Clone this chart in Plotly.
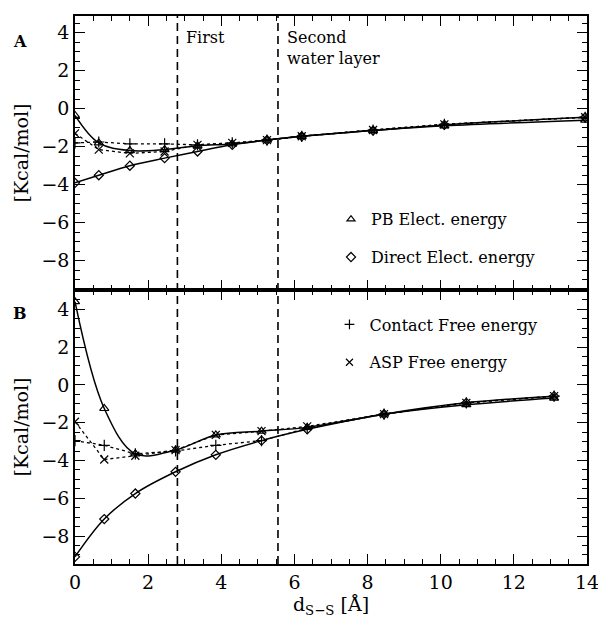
import plotly.graph_objects as go
from plotly.subplots import make_subplots

# ---- data ----
x_top = [0.0, 0.65, 1.5, 2.45, 3.35, 4.3, 5.25, 6.2, 8.15, 10.1, 13.95]
pb_top = [-0.35, -1.8, -2.2, -2.15, -1.95, -1.85, -1.65, -1.45, -1.15, -0.9, -0.6]
direct_top = [-3.9, -3.5, -3.0, -2.6, -2.25, -1.9, -1.65, -1.45, -1.15, -0.85, -0.45]
contact_top = [-1.8, -1.75, -1.85, -1.85, -1.9, -1.8, -1.65, -1.45, -1.12, -0.82, -0.45]
asp_top = [-1.3, -2.15, -2.35, -2.25, -1.9, -1.8, -1.65, -1.45, -1.12, -0.82, -0.45]

x_bot = [0.0, 0.8, 1.65, 2.75, 3.85, 5.1, 6.35, 8.45, 10.7, 13.1]
pb_bot = [4.4, -1.25, -3.65, -3.45, -2.65, -2.45, -2.25, -1.55, -1.05, -0.7]
direct_bot = [-9.1, -7.1, -5.75, -4.6, -3.7, -2.95, -2.35, -1.55, -0.95, -0.6]
contact_bot = [-2.95, -3.2, -3.65, -3.5, -3.2, -2.95, -2.3, -1.55, -0.95, -0.6]
asp_bot = [-1.95, -3.95, -3.75, -3.45, -2.65, -2.45, -2.2, -1.55, -0.95, -0.6]

layer_x = [2.8, 5.55]
y_ticks = [-8, -6, -4, -2, 0, 2, 4]
x_ticks = [0, 2, 4, 6, 8, 10, 12, 14]

names = ["PB Elect. energy", "Direct Elect. energy", "Contact Free energy", "ASP Free energy"]

FONT = "DejaVu Serif"
BLACK = "black"

def mk(symbol, size=9):
    return dict(symbol=symbol, size=size, color=BLACK,
                line=dict(width=1.2, color=BLACK))

sym = {"pb": "triangle-up-open", "direct": "diamond-open",
       "contact": "cross-thin-open", "asp": "x-thin-open"}

fig = make_subplots(rows=2, cols=1, shared_xaxes=True, vertical_spacing=0)

def add_panel(row, xs, pb, direct, contact, asp):
    fig.add_trace(go.Scatter(x=xs, y=contact, mode="lines+markers",
                             line=dict(color=BLACK, width=1.3, dash="dot"),
                             marker=mk(sym["contact"], 8), showlegend=False), row=row, col=1)
    fig.add_trace(go.Scatter(x=xs, y=asp, mode="lines+markers",
                             line=dict(color=BLACK, width=1.3, dash="dot"),
                             marker=mk(sym["asp"], 8), showlegend=False), row=row, col=1)
    fig.add_trace(go.Scatter(x=xs, y=pb, mode="lines+markers",
                             line=dict(color=BLACK, width=1.5, shape="spline", smoothing=1.0),
                             marker=mk(sym["pb"], 8), showlegend=False), row=row, col=1)
    fig.add_trace(go.Scatter(x=xs, y=direct, mode="lines+markers",
                             line=dict(color=BLACK, width=1.5, shape="spline", smoothing=1.0),
                             marker=mk(sym["direct"], 7), showlegend=False), row=row, col=1)

add_panel(1, x_top, pb_top, direct_top, contact_top, asp_top)
add_panel(2, x_bot, pb_bot, direct_bot, contact_bot, asp_bot)

# legend entries (marker-only, no data)
for key, name, leg, grp in [("pb", names[0], "legend", "g1"),
                            ("direct", names[1], "legend", "g2"),
                            ("contact", names[2], "legend2", "g3"),
                            ("asp", names[3], "legend2", "g4")]:
    fig.add_trace(go.Scatter(x=[None], y=[None], mode="markers",
                             marker=mk(sym[key], 7), name=name,
                             legend=leg, legendgroup=grp, showlegend=True))

axis_common = dict(showline=True, linecolor=BLACK, linewidth=1.6, mirror="ticks",
                   ticks="inside", ticklen=10, tickwidth=1.2, tickcolor=BLACK,
                   showgrid=False, zeroline=False, automargin=False,
                   ticklabeloverflow="allow",
                   tickfont=dict(family=FONT, size=19, color=BLACK),
                   minor=dict(ticks="inside", ticklen=5, tickwidth=1.0,
                              tickcolor=BLACK, tickmode="linear", tick0=0, dtick=0.5,
                              showgrid=False))

fig.update_xaxes(**axis_common, range=[0, 14], tickvals=x_ticks)
fig.update_xaxes(showticklabels=False, row=1, col=1)
fig.update_xaxes(title=dict(text="d<sub>S−S</sub> [Å]", font=dict(family=FONT, size=19, color=BLACK),
                            standoff=4), row=2, col=1)
fig.update_yaxes(**axis_common, tickvals=y_ticks,
                 title=dict(text="[Kcal/mol]", font=dict(family=FONT, size=19, color=BLACK),
                            standoff=8))
fig.update_yaxes(range=[-9.54, 4.88], row=1, col=1)
fig.update_yaxes(range=[-9.48, 5.02], row=2, col=1)

for xv in layer_x:
    fig.add_shape(type="line", xref="x", yref="paper", x0=xv, x1=xv, y0=0, y1=1,
                  line=dict(color=BLACK, width=1.6, dash="8px,5px"), layer="above")

ann_font = dict(family=FONT, size=16, color=BLACK)
fig.add_annotation(text="First", xref="paper", yref="paper", x=0.212, y=0.982,
                   xanchor="left", yanchor="top", showarrow=False, font=ann_font)
fig.add_annotation(text="Second<br>water layer", xref="paper", yref="paper", x=0.41, y=0.982,
                   xanchor="left", yanchor="top", showarrow=False, font=ann_font, align="left")
fig.add_annotation(text="<b>A</b>", xref="paper", yref="paper", x=-0.107, y=0.953,
                   xanchor="center", yanchor="middle", showarrow=False, font=ann_font)
fig.add_annotation(text="<b>B</b>", xref="paper", yref="paper", x=-0.107, y=0.458,
                   xanchor="center", yanchor="middle", showarrow=False, font=ann_font)

leg_common = dict(xanchor="left", yanchor="top", bgcolor="rgba(0,0,0,0)",
                  font=dict(family=FONT, size=16, color=BLACK), tracegroupgap=14,
                  itemwidth=30)
fig.update_layout(
    width=598, height=628,
    margin=dict(l=75, r=11, t=16, b=64),
    paper_bgcolor="white", plot_bgcolor="white",
    font=dict(family=FONT, color=BLACK),
    legend=dict(x=0.50, y=0.66, **leg_common),
    legend2=dict(x=0.497, y=0.468, **leg_common),
)

fig.write_html("out.html")
